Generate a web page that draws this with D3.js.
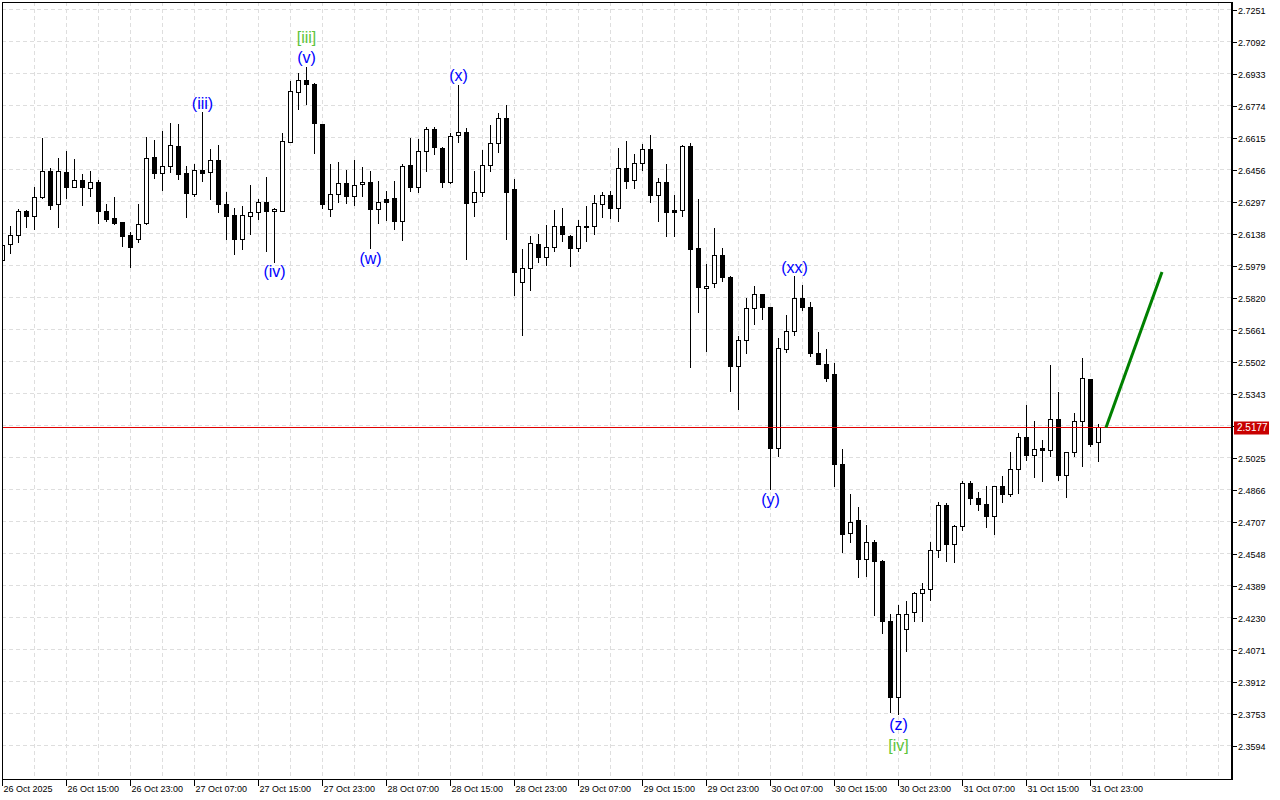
<!DOCTYPE html>
<html>
<head>
<meta charset="utf-8">
<script src="https://cdn.jsdelivr.net/npm/d3@7/dist/d3.min.js"></script>
<style>
  body { margin: 0; background: #fff; }
  svg { display: block; }
  text { font-family: "Liberation Sans", Arial, sans-serif; }
</style>
</head>
<body>
<script>

// hourly bars, oldest first: [open, high, low, close]
var candles = [
  [2.6004, 2.6093, 2.5994, 2.6083], [2.6088, 2.6178, 2.6039, 2.6133], [2.6133, 2.6262, 2.6093, 2.6252], [2.6252, 2.6257, 2.6168, 2.6223],
  [2.6227, 2.6372, 2.6158, 2.6317], [2.6317, 2.6615, 2.6312, 2.6451], [2.6451, 2.6466, 2.6257, 2.6282], [2.6287, 2.6516, 2.6168, 2.6451],
  [2.6446, 2.6551, 2.6312, 2.6367], [2.6367, 2.6511, 2.6365, 2.6406], [2.6406, 2.6436, 2.6277, 2.6367], [2.6362, 2.6451, 2.6322, 2.6396],
  [2.6396, 2.6406, 2.6188, 2.6252], [2.6252, 2.6287, 2.6198, 2.6208], [2.6213, 2.6322, 2.6183, 2.6188], [2.6193, 2.6198, 2.6073, 2.6128],
  [2.6133, 2.6148, 2.5969, 2.6073], [2.6113, 2.6287, 2.6093, 2.6183], [2.6188, 2.6620, 2.6183, 2.6511], [2.6516, 2.6605, 2.6411, 2.6441],
  [2.6441, 2.6650, 2.6352, 2.6471], [2.6471, 2.6690, 2.6441, 2.6580], [2.6575, 2.6685, 2.6406, 2.6436], [2.6441, 2.6476, 2.6218, 2.6337],
  [2.6332, 2.6486, 2.6322, 2.6456], [2.6456, 2.6744, 2.6396, 2.6441], [2.6446, 2.6560, 2.6307, 2.6501], [2.6501, 2.6580, 2.6242, 2.6287],
  [2.6287, 2.6347, 2.6108, 2.6227], [2.6232, 2.6267, 2.6034, 2.6113], [2.6113, 2.6277, 2.6059, 2.6232], [2.6227, 2.6382, 2.6133, 2.6247],
  [2.6247, 2.6312, 2.6208, 2.6297], [2.6297, 2.6421, 2.6049, 2.6252], [2.6252, 2.6267, 2.5994, 2.6262], [2.6252, 2.6640, 2.6250, 2.6600],
  [2.6595, 2.6898, 2.6593, 2.6844], [2.6839, 2.6938, 2.6754, 2.6903], [2.6903, 2.6968, 2.6779, 2.6879], [2.6879, 2.6889, 2.6536, 2.6685],
  [2.6680, 2.6685, 2.6262, 2.6287], [2.6262, 2.6486, 2.6223, 2.6332], [2.6332, 2.6496, 2.6292, 2.6387], [2.6387, 2.6456, 2.6287, 2.6322],
  [2.6322, 2.6506, 2.6277, 2.6377], [2.6382, 2.6471, 2.6322, 2.6396], [2.6396, 2.6451, 2.6063, 2.6262], [2.6262, 2.6401, 2.6188, 2.6297],
  [2.6307, 2.6352, 2.6203, 2.6297], [2.6312, 2.6401, 2.6158, 2.6198], [2.6198, 2.6486, 2.6103, 2.6471], [2.6476, 2.6615, 2.6347, 2.6367],
  [2.6367, 2.6610, 2.6342, 2.6546], [2.6546, 2.6670, 2.6446, 2.6655], [2.6655, 2.6670, 2.6531, 2.6570], [2.6565, 2.6570, 2.6367, 2.6396],
  [2.6396, 2.6640, 2.6387, 2.6620], [2.6625, 2.6879, 2.6590, 2.6640], [2.6640, 2.6665, 2.6009, 2.6292], [2.6297, 2.6451, 2.6223, 2.6342],
  [2.6342, 2.6556, 2.6322, 2.6476], [2.6476, 2.6680, 2.6446, 2.6590], [2.6590, 2.6739, 2.6541, 2.6710], [2.6710, 2.6779, 2.6108, 2.6342],
  [2.6357, 2.6411, 2.5830, 2.5949], [2.5899, 2.6063, 2.5631, 2.5969], [2.5969, 2.6128, 2.5855, 2.6093], [2.6088, 2.6138, 2.5994, 2.6019],
  [2.6019, 2.6183, 2.5979, 2.6073], [2.6073, 2.6257, 2.6049, 2.6173], [2.6173, 2.6267, 2.6098, 2.6138], [2.6128, 2.6133, 2.5974, 2.6068],
  [2.6068, 2.6208, 2.6049, 2.6173], [2.6171, 2.6277, 2.6098, 2.6173], [2.6173, 2.6332, 2.6133, 2.6292], [2.6287, 2.6347, 2.6218, 2.6327],
  [2.6327, 2.6352, 2.6213, 2.6267], [2.6267, 2.6565, 2.6198, 2.6461], [2.6461, 2.6600, 2.6362, 2.6401], [2.6406, 2.6536, 2.6362, 2.6486],
  [2.6486, 2.6585, 2.6451, 2.6556], [2.6556, 2.6630, 2.6292, 2.6327], [2.6327, 2.6416, 2.6198, 2.6396], [2.6396, 2.6486, 2.6123, 2.6247],
  [2.6257, 2.6332, 2.6123, 2.6247], [2.6257, 2.6580, 2.6223, 2.6575], [2.6575, 2.6590, 2.5472, 2.6063], [2.6068, 2.6312, 2.5745, 2.5870],
  [2.5865, 2.5989, 2.5552, 2.5875], [2.5894, 2.6168, 2.5870, 2.6029], [2.6029, 2.6068, 2.5899, 2.5924], [2.5924, 2.5929, 2.5353, 2.5482],
  [2.5482, 2.5631, 2.5263, 2.5611], [2.5611, 2.5820, 2.5542, 2.5770], [2.5770, 2.5880, 2.5686, 2.5835], [2.5835, 2.5840, 2.5711, 2.5775],
  [2.5775, 2.5777, 2.4866, 2.5074], [2.5074, 2.5621, 2.5030, 2.5571], [2.5566, 2.5735, 2.5547, 2.5656], [2.5656, 2.5929, 2.5631, 2.5820],
  [2.5820, 2.5885, 2.5755, 2.5775], [2.5775, 2.5800, 2.5527, 2.5542], [2.5542, 2.5651, 2.5487, 2.5492], [2.5492, 2.5566, 2.5402, 2.5422],
  [2.5442, 2.5497, 2.4881, 2.4995], [2.4995, 2.5069, 2.4553, 2.4647], [2.4652, 2.4846, 2.4602, 2.4707], [2.4712, 2.4781, 2.4428, 2.4523],
  [2.4523, 2.4692, 2.4433, 2.4607], [2.4607, 2.4617, 2.4239, 2.4513], [2.4513, 2.4518, 2.4150, 2.4215], [2.4215, 2.4249, 2.3757, 2.3837],
  [2.3837, 2.4294, 2.3747, 2.4249], [2.4175, 2.4314, 2.4061, 2.4249], [2.4259, 2.4359, 2.4210, 2.4354], [2.4354, 2.4403, 2.4210, 2.4374],
  [2.4374, 2.4607, 2.4314, 2.4563], [2.4563, 2.4806, 2.4528, 2.4791], [2.4791, 2.4801, 2.4508, 2.4597], [2.4597, 2.4692, 2.4503, 2.4687],
  [2.4687, 2.4910, 2.4662, 2.4896], [2.4896, 2.4910, 2.4791, 2.4826], [2.4826, 2.4856, 2.4761, 2.4796], [2.4796, 2.4886, 2.4677, 2.4732],
  [2.4732, 2.4886, 2.4642, 2.4881], [2.4881, 2.4935, 2.4801, 2.4846], [2.4846, 2.5055, 2.4831, 2.4970], [2.4970, 2.5149, 2.4846, 2.5129],
  [2.5129, 2.5288, 2.5010, 2.5035], [2.5035, 2.5209, 2.4925, 2.5069], [2.5074, 2.5114, 2.4905, 2.5064], [2.5064, 2.5487, 2.5030, 2.5214],
  [2.5214, 2.5353, 2.4910, 2.4940], [2.4940, 2.5052, 2.4826, 2.5050], [2.5050, 2.5248, 2.5030, 2.5204], [2.5204, 2.5522, 2.4980, 2.5422],
  [2.5417, 2.5420, 2.5079, 2.5094], [2.5104, 2.5194, 2.5005, 2.5177]
];

// one label every 8 bars, starting at bar 0
var timeLabels = [
  '26 Oct 2025', '26 Oct 15:00', '26 Oct 23:00', '27 Oct 07:00', '27 Oct 15:00', '27 Oct 23:00',
  '28 Oct 07:00', '28 Oct 15:00', '28 Oct 23:00', '29 Oct 07:00', '29 Oct 15:00', '29 Oct 23:00',
  '30 Oct 07:00', '30 Oct 15:00', '30 Oct 23:00', '31 Oct 07:00', '31 Oct 15:00', '31 Oct 23:00'
];

var priceTicks = [
  2.7251, 2.7092, 2.6933, 2.6774, 2.6615, 2.6456, 2.6297, 2.6138, 2.5979, 2.5820, 2.5661, 2.5502,
  2.5343, 2.5184, 2.5025, 2.4866, 2.4707, 2.4548, 2.4389, 2.4230, 2.4071, 2.3912, 2.3753, 2.3594
];

var lastPrice = 2.5177;

// forecast arrow: [bar, price]
var projection = [[138, 2.5177], [145, 2.5949]];

// elliott wave marks, hung off the bar's high or low
var waveLabels = [
  { text: '(iii)', bar: 25, side: 'high', row: 0, degree: 'minor' },
  { text: '(v)',   bar: 38, side: 'high', row: 0, degree: 'minor' },
  { text: '[iii]', bar: 38, side: 'high', row: 1, degree: 'major' },
  { text: '(iv)',  bar: 34, side: 'low',  row: 0, degree: 'minor' },
  { text: '(w)',   bar: 46, side: 'low',  row: 0, degree: 'minor' },
  { text: '(x)',   bar: 57, side: 'high', row: 0, degree: 'minor' },
  { text: '(y)',   bar: 96, side: 'low',  row: 0, degree: 'minor' },
  { text: '(xx)',  bar: 99, side: 'high', row: 0, degree: 'minor' },
  { text: '(z)',   bar: 112, side: 'low', row: 0, degree: 'minor' },
  { text: '[iv]',  bar: 112, side: 'low', row: 1, degree: 'major' }
];

var W = 1280, H = 800;
var plot = { left: 2, right: 1231, top: 2, bottom: 779 };
var barStep = 8;

var svg = d3.select('body').append('svg')
  .attr('width', W)
  .attr('height', H);

var x = d3.scaleLinear()
  .domain([0, (plot.right - plot.left) / barStep])
  .range([plot.left, plot.right]);

var y = d3.scaleLinear()
  .domain([2.3594, 2.7251])
  .range([746, 10]);

svg.append('defs').append('clipPath')
  .attr('id', 'plot-clip')
  .append('rect')
  .attr('x', plot.left)
  .attr('y', plot.top)
  .attr('width', plot.right - plot.left)
  .attr('height', plot.bottom - plot.top);

// grid
var grid = svg.append('g')
  .attr('stroke', '#dedede')
  .attr('stroke-dasharray', '4,3')
  .attr('shape-rendering', 'crispEdges');

grid.selectAll('line.h')
  .data(priceTicks)
  .enter().append('line')
  .attr('x1', plot.left)
  .attr('x2', plot.right)
  .attr('y1', function(d){ return Math.round(y(d)) - 0.5; })
  .attr('y2', function(d){ return Math.round(y(d)) - 0.5; });

grid.selectAll('line.v')
  .data(d3.range(4, x.domain()[1], 4))
  .enter().append('line')
  .attr('x1', function(d){ return x(d) + 0.5; })
  .attr('x2', function(d){ return x(d) + 0.5; })
  .attr('y1', plot.top)
  .attr('y2', plot.bottom);

// candles
var bars = svg.append('g')
  .attr('clip-path', 'url(#plot-clip)')
  .attr('shape-rendering', 'crispEdges');

var bar = bars.selectAll('g.bar')
  .data(candles)
  .enter().append('g');

bar.append('line')
  .attr('x1', function(d, i){ return x(i) + 0.5; })
  .attr('x2', function(d, i){ return x(i) + 0.5; })
  .attr('y1', function(d){ return y(d[1]); })
  .attr('y2', function(d){ return y(d[2]); })
  .attr('stroke', '#000');

bar.append('rect')
  .attr('x', function(d, i){ return x(i) - 1.5; })
  .attr('width', 4)
  .attr('y', function(d){ return y(Math.max(d[0], d[3])); })
  .attr('height', function(d){ return Math.max(1, Math.abs(y(d[0]) - y(d[3]))); })
  .attr('fill', function(d){ return d[3] >= d[0] ? '#fff' : '#000'; })
  .attr('stroke', '#000');

// current price line, over the bars
svg.append('rect')
  .attr('x', plot.left)
  .attr('width', plot.right - plot.left)
  .attr('y', Math.round(y(lastPrice)))
  .attr('height', 1)
  .attr('fill', '#e00000');

// forecast
svg.append('path')
  .datum(projection)
  .attr('d', d3.line()
    .x(function(d){ return x(d[0]); })
    .y(function(d){ return y(d[1]); }))
  .attr('fill', 'none')
  .attr('stroke', '#008000')
  .attr('stroke-width', 3);

// wave labels
var waveColor = { minor: '#0000ff', major: '#5cc43a' };
svg.append('g').selectAll('text')
  .data(waveLabels)
  .enter().append('text')
  .attr('x', function(d){ return x(d.bar) + 0.5; })
  .attr('y', function(d){
    var c = candles[d.bar];
    if (d.side === 'high') return y(c[1]) - 9 - d.row * 20;
    return y(c[2]) + 9 + d.row * 21;
  })
  .attr('text-anchor', 'middle')
  .attr('dominant-baseline', 'central')
  .attr('font-family', '"DejaVu Sans", sans-serif')
  .attr('font-size', 16)
  .attr('fill', function(d){ return waveColor[d.degree]; })
  .text(function(d){ return d.text; });

// frame
svg.append('rect')
  .attr('x', plot.left + 0.5)
  .attr('y', plot.top + 0.5)
  .attr('width', plot.right - plot.left)
  .attr('height', plot.bottom - plot.top)
  .attr('fill', 'none')
  .attr('stroke', '#000')
  .attr('shape-rendering', 'crispEdges');

svg.append('line')
  .attr('x1', plot.right + 1)
  .attr('x2', plot.right + 1)
  .attr('y1', plot.top)
  .attr('y2', plot.bottom + 1)
  .attr('stroke', '#000')
  .attr('stroke-width', 2)
  .attr('shape-rendering', 'crispEdges');

// price axis
var yAxis = svg.append('g')
  .attr('transform', 'translate(' + (plot.right + 2) + ',0)');

var yTick = yAxis.selectAll('g')
  .data(priceTicks)
  .enter().append('g')
  .attr('transform', function(d){ return 'translate(0,' + (Math.round(y(d)) + 0.5) + ')'; });

yTick.append('line')
  .attr('x2', 4)
  .attr('stroke', '#000')
  .attr('shape-rendering', 'crispEdges');

yTick.append('text')
  .attr('x', 5)
  .attr('dy', '0.35em')
  .attr('font-size', 9)
  .attr('fill', '#000')
  .text(d3.format('.4f'));

var tag = yAxis.append('g')
  .attr('transform', 'translate(0,' + (Math.round(y(lastPrice)) + 0.5) + ')');
tag.append('rect')
  .attr('x', 1)
  .attr('y', -6)
  .attr('width', 35)
  .attr('height', 13)
  .attr('fill', '#c80000');
tag.append('text')
  .attr('x', 4)
  .attr('dy', '0.36em')
  .attr('font-size', 10)
  .attr('fill', '#fff')
  .text(d3.format('.4f')(lastPrice));

// time axis
var xAxis = svg.append('g');

var xTick = xAxis.selectAll('g')
  .data(timeLabels)
  .enter().append('g')
  .attr('transform', function(d, i){ return 'translate(' + (x(i * 8) + 0.5) + ',' + plot.bottom + ')'; });

xTick.append('line')
  .attr('y1', 0)
  .attr('y2', 7)
  .attr('stroke', '#000')
  .attr('shape-rendering', 'crispEdges');

xTick.append('text')
  .attr('x', 1)
  .attr('y', 13)
  .attr('font-size', 9)
  .attr('fill', '#000')
  .text(function(d){ return d; });

</script>
</body>
</html>
